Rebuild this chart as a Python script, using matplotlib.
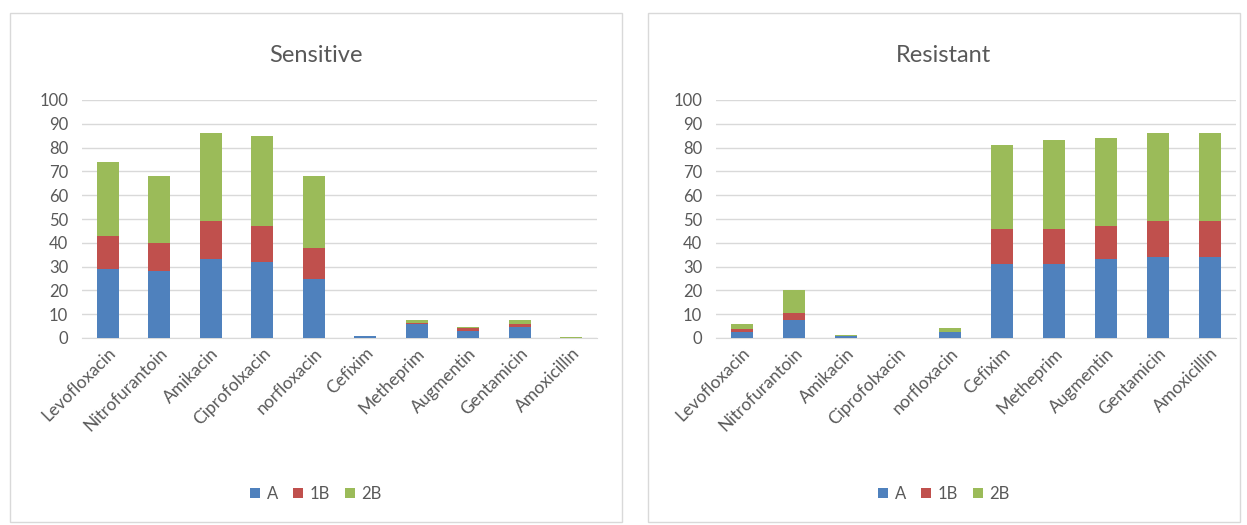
import numpy as np
import matplotlib
matplotlib.use("Agg")
import matplotlib.pyplot as plt
from matplotlib.patches import Rectangle

plt.rcParams["font.family"] = ["Lato", "DejaVu Sans"]

# data
DRUGS = ["Levofloxacin", "Nitrofurantoin", "Amikacin", "Ciprofolxacin", "norfloxacin",
         "Cefixim", "Metheprim", "Augmentin", "Gentamicin", "Amoxicillin"]
SERIES = ["A", "1B", "2B"]

sens_A = [29, 28, 33, 32, 25, 1, 6, 3, 4.5, 0]
sens_1B = [14, 12, 16, 15, 13, 0, 0.3, 1.2, 1.5, 0]
sens_2B = [31, 28, 37, 38, 30, 0, 1.3, 0.4, 1.5, 0.6]

res_A = [2.5, 7.5, 0.7, 0, 2.5, 31, 31, 33, 34, 34]
res_1B = [1.2, 3, 0, 0, 0, 15, 15, 14, 15, 15]
res_2B = [2, 9.5, 0.7, 0, 1.5, 35, 37, 37, 37, 37]

COLORS = {"A": "#4F81BD", "1B": "#C0504D", "2B": "#9BBB59"}
TXT = "#595959"

W, H = 1247, 525
fig = plt.figure(figsize=(W / 100, H / 100), dpi=100)


def px(x0, y0, x1, y1):
    # pixel box -> figure fraction [l, b, w, h]
    return [x0 / W, 1 - y1 / H, (x1 - x0) / W, (y1 - y0) / H]


def panel(box, axbox, title, a, b1, b2):
    fig.add_artist(Rectangle((box[0], box[1]), box[2], box[3], transform=fig.transFigure,
                             fill=False, edgecolor="#D9D9D9", lw=1))
    ax = fig.add_axes(axbox)
    x = np.arange(len(DRUGS))
    a, b1, b2 = np.array(a), np.array(b1), np.array(b2)
    w = 0.42
    ax.bar(x, a, w, color=COLORS["A"], label="A", zorder=3)
    ax.bar(x, b1, w, bottom=a, color=COLORS["1B"], label="1B", zorder=3)
    ax.bar(x, b2, w, bottom=a + b1, color=COLORS["2B"], label="2B", zorder=3)
    ax.set_xlim(-0.5, len(DRUGS) - 0.5)
    ax.set_ylim(0, 100)
    ax.set_yticks(range(0, 101, 10))
    ax.grid(axis="y", color="#D9D9D9", lw=1, zorder=0)
    for s in ["top", "right", "left"]:
        ax.spines[s].set_visible(False)
    ax.spines["bottom"].set_color("#D9D9D9")
    ax.tick_params(axis="y", length=0, colors=TXT, labelsize=12, pad=10)
    ax.set_xticks(x)
    ax.set_xticklabels(DRUGS, rotation=45, ha="right", rotation_mode="anchor")
    ax.tick_params(axis="x", length=0, colors=TXT, labelsize=12.5, pad=5)
    cx = box[0] + box[2] / 2
    fig.text(cx, 1 - 55 / H, title, ha="center", va="center", fontsize=17, color=TXT)
    fig.legend(*ax.get_legend_handles_labels(), loc="center", ncol=3,
               bbox_to_anchor=(cx, 1 - 494 / H), frameon=False, fontsize=12,
               labelcolor=TXT, handlelength=0.6, handleheight=0.6, handletextpad=0.4,
               columnspacing=0.9)
    return ax


panel(px(10, 13, 622, 522), px(82, 100, 597, 338), "Sensitive", sens_A, sens_1B, sens_2B)
panel(px(648, 13, 1240, 522), px(716, 100, 1236, 338), "Resistant", res_A, res_1B, res_2B)

fig.savefig("out.png", dpi=100)
